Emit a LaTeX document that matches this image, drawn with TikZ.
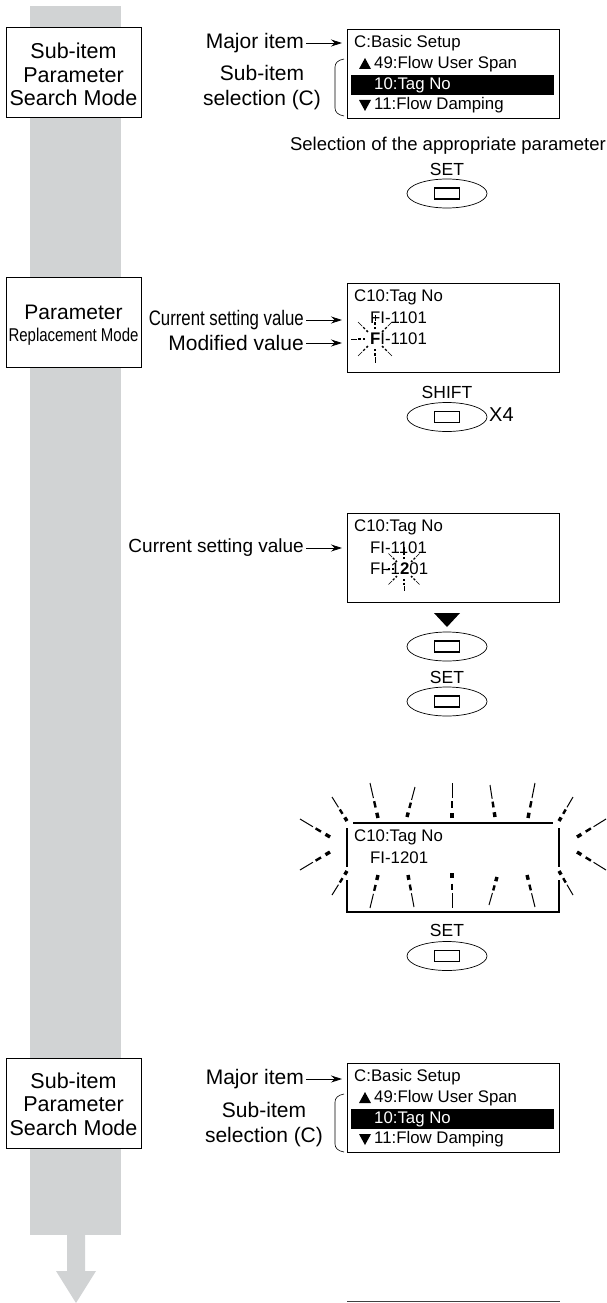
\documentclass[tikz,border=0pt]{standalone}
\usepackage{fontspec}
\setmainfont{Liberation Sans}
\usepackage{graphicx}
\usetikzlibrary{arrows.meta,shapes.geometric,calc}
\definecolor{barGray}{RGB}{209,211,212}
\newcommand\flashray[3]{%
  \draw[line width=#3*3.4pt] ($(#1)!0!(#2)$) -- ($(#1)!0.15!(#2)$);
  \draw[line width=#3*2.4pt] ($(#1)!0.3!(#2)$) -- ($(#1)!0.48!(#2)$);
  \draw[line width=#3*1pt] ($(#1)!0.57!(#2)$) -- (#2);
}
\begin{document}
\begin{tikzpicture}[x=1pt,y=-1pt,
  lbl/.style={inner sep=0pt, font=\fontsize{21}{25}\selectfont},
  lcdtxt/.style={inner sep=0pt, anchor=west, font=\fontsize{16.8}{20}\selectfont},
  lcd/.style={draw, line width=1.4pt, minimum width=212pt, minimum height=89pt, inner sep=0pt, anchor=north west, fill=white},
  modebox/.style={draw, line width=0.8pt, fill=white, inner sep=0pt, minimum width=135pt, minimum height=90pt},
  modetxt/.style={inner sep=0pt, align=center, font=\fontsize{21.5}{23.5}\selectfont},
  btn/.style={draw, ellipse, line width=0.7pt, minimum width=80pt, minimum height=29pt, inner sep=0pt},
  keyrect/.style={draw, line width=1.3pt, minimum width=25pt, minimum height=11pt, inner sep=0pt},
  keylbl/.style={inner sep=0pt, font=\fontsize{17.5}{20}\selectfont},
  arr/.style={-{Stealth[length=11pt,width=7pt]}, line width=0.8pt, shorten >=5pt},
  brace/.style={line width=0.6pt},
  hl/.style={fill=black}
]
\useasboundingbox (0,0) rectangle (607,1303);
% flow bar and arrow
\fill[barGray] (30,6) rectangle (121,1235);
\fill[barGray] (67,1234) -- (85,1234) -- (85,1271) -- (96,1271) -- (76,1303) -- (56,1271) -- (67,1271) -- cycle;

% ===== Stage 1 =====
\node[modebox] (m1) at (73.5,72) {};
\node[modetxt] (m1t) at (73.5,74.5) {Sub-item\\Parameter\\Search Mode};
\node[lcd] (lcd1) at (347,29) {};
\node[lcdtxt] (l1a) at (354,43) {C:Basic Setup};
\fill (359,69) -- (371,69) -- (365,58) -- cycle;
\node[lcdtxt] (l1b) at (374,64) {49:Flow User Span};
\fill[hl] (351,75) rectangle (554,95);
\node[lcdtxt, text=white] (l1c) at (374,85) {10:Tag No};
\fill (359,100) -- (371,100) -- (365,111) -- cycle;
\node[lcdtxt] (l1d) at (374,105) {11:Flow Damping};
\node[lbl, anchor=east] (maj1) at (304,43) {Major item};
\draw[arr] ([xshift=2pt]maj1.east) -- (maj1.east -| lcd1.west);
\node[lbl, align=center] (sub1) at (262,88) {Sub-item\\selection (C)};
\draw[brace] (344,59) .. controls (338,60) and (335,63) .. (335,67) -- (335,108) .. controls (335,112) and (338,115) .. (344,116);
\node[inner sep=0pt, anchor=east, font=\fontsize{18.5}{22}\selectfont] (selp) at (606,146) {Selection of the appropriate parameter};
\node[keylbl] (set1) at (447,169) {SET};
\node[btn] (b1) at (447,193.5) {};
\node[keyrect] (k1) at (b1) {};

% ===== Stage 2 =====
\node[modebox] (m2) at (73.5,322) {};
\node[lbl] (m2a) at (73.5,312) {Parameter};
\node[inner sep=0pt, font=\fontsize{18.5}{22}\selectfont] (m2b) at (73.5,337) {\scalebox{0.81}[1]{Replacement Mode}};
\node[lcd] (lcd2) at (347,283) {};
\node[lcdtxt] (l2a) at (354,297) {C10:Tag No};
\node[lcdtxt] (l2b) at (370,318) {FI-1101};
\node[lcdtxt] (l2c) at (370,339) {{\bfseries F}I-1101};
\coordinate (fc) at (375,339);
\foreach \a in {45,90,135,180,225,270,315} {
  \coordinate (pi) at ($(fc)+(\a:10)$);
  \coordinate (po) at ($(fc)+(\a:24)$);
  \flashray{pi}{po}{0.45}
}
\node[lbl, anchor=east] (cur2) at (304,320) {\scalebox{0.8}[1]{Current setting value}};
\draw[arr] ([xshift=2pt]cur2.east) -- (cur2.east -| lcd2.west);
\node[lbl, anchor=east] (mod2) at (304,343) {Modified value};
\draw[arr] ([xshift=2pt]mod2.east) -- (mod2.east -| lcd2.west);
\node[keylbl] (shift) at (447,392) {SHIFT};
\node[btn] (b2) at (447,417) {};
\node[keyrect] (k2) at (b2) {};
\node[inner sep=0pt, anchor=west, font=\fontsize{20}{22}\selectfont] (x4) at (489,415) {X4};

% ===== Stage 3 =====
\node[lcd] (lcd3) at (347,513) {};
\node[lcdtxt] (l3a) at (354,527) {C10:Tag No};
\node[lcdtxt] (l3b) at (370,548) {FI-1101};
\node[lcdtxt] (l3c) at (370,569) {FI-1{\bfseries 2}01};
\coordinate (tc) at (404,569);
\foreach \a in {45,90,135,180,225,270,315} {
  \coordinate (pi) at ($(tc)+(\a:10)$);
  \coordinate (po) at ($(tc)+(\a:22)$);
  \flashray{pi}{po}{0.45}
}
\node[inner sep=0pt, anchor=east, font=\fontsize{19}{22}\selectfont] (cur3) at (304,548) {Current setting value};
\draw[arr] ([xshift=2pt]cur3.east) -- (cur3.east -| lcd3.west);
\fill (434,613) -- (460,613) -- (447,627) -- cycle;
\node[btn] (b3) at (447,646.5) {};
\node[keyrect] (k3) at (b3) {};
\node[keylbl] (set2) at (447,677) {SET};
\node[btn] (b4) at (447,701.5) {};
\node[keyrect] (k4) at (b4) {};

% ===== Stage 4 (flashing) =====
\draw[line width=1.4pt] (353,823) -- (553,823);
\draw[line width=1.4pt] (347,828) -- (347,867);
\draw[line width=1.4pt] (559,828) -- (559,867);
\draw[line width=1.4pt] (347,880) -- (347,912) -- (559,912) -- (559,880);
\node[lcdtxt] (l4a) at (354,837) {C10:Tag No};
\node[lcdtxt] (l4b) at (370,858) {FI-1201};
\flashray{347,821}{332,797}{1}
\flashray{378,818}{370,783}{1}
\flashray{407,817}{415,787}{1}
\flashray{452,818}{452,783}{1}
\flashray{495,817}{490,785}{1}
\flashray{528,818}{535,783}{1}
\flashray{559,821}{573,797}{1}
\flashray{330,837}{300,819}{1}
\flashray{330,852}{300,870}{1}
\flashray{577,837}{606,819}{1}
\flashray{577,852}{606,870}{1}
\flashray{347,871}{332,895}{1}
\flashray{559,871}{573,895}{1}
\flashray{378,875}{370,908}{1}
\flashray{408,875}{414,907}{1}
\flashray{452,873}{452,908}{1}
\flashray{497,877}{489,905}{1}
\flashray{527,875}{535,907}{1}
\node[keylbl] (set3) at (447,930) {SET};
\node[btn] (b5) at (447,956) {};
\node[keyrect] (k5) at (b5) {};

% ===== Stage 5 =====
\node[modebox] (m3) at (73.5,1103.5) {};
\node[modetxt] (m3t) at (73.5,1104) {Sub-item\\Parameter\\Search Mode};
\node[lcd] (lcd5) at (347,1063) {};
\node[lcdtxt] (l5a) at (354,1077) {C:Basic Setup};
\fill (359,1103) -- (371,1103) -- (365,1092) -- cycle;
\node[lcdtxt] (l5b) at (374,1098) {49:Flow User Span};
\fill[hl] (351,1109) rectangle (554,1129);
\node[lcdtxt, text=white] (l5c) at (374,1119) {10:Tag No};
\fill (359,1134) -- (371,1134) -- (365,1145) -- cycle;
\node[lcdtxt] (l5d) at (374,1139) {11:Flow Damping};
\node[lbl, anchor=east] (maj5) at (304,1079) {Major item};
\draw[arr] ([xshift=2pt]maj5.east) -- (maj5.east -| lcd5.west);
\node[lbl, align=center] (sub5) at (264,1125) {Sub-item\\selection (C)};
\draw[brace] (344,1094) .. controls (338,1095) and (335,1098) .. (335,1102) -- (335,1144) .. controls (335,1148) and (338,1151) .. (344,1152);
\draw[line width=1.3pt, black!75] (347,1301.5) -- (560,1301.5);
\end{tikzpicture}
\end{document}
